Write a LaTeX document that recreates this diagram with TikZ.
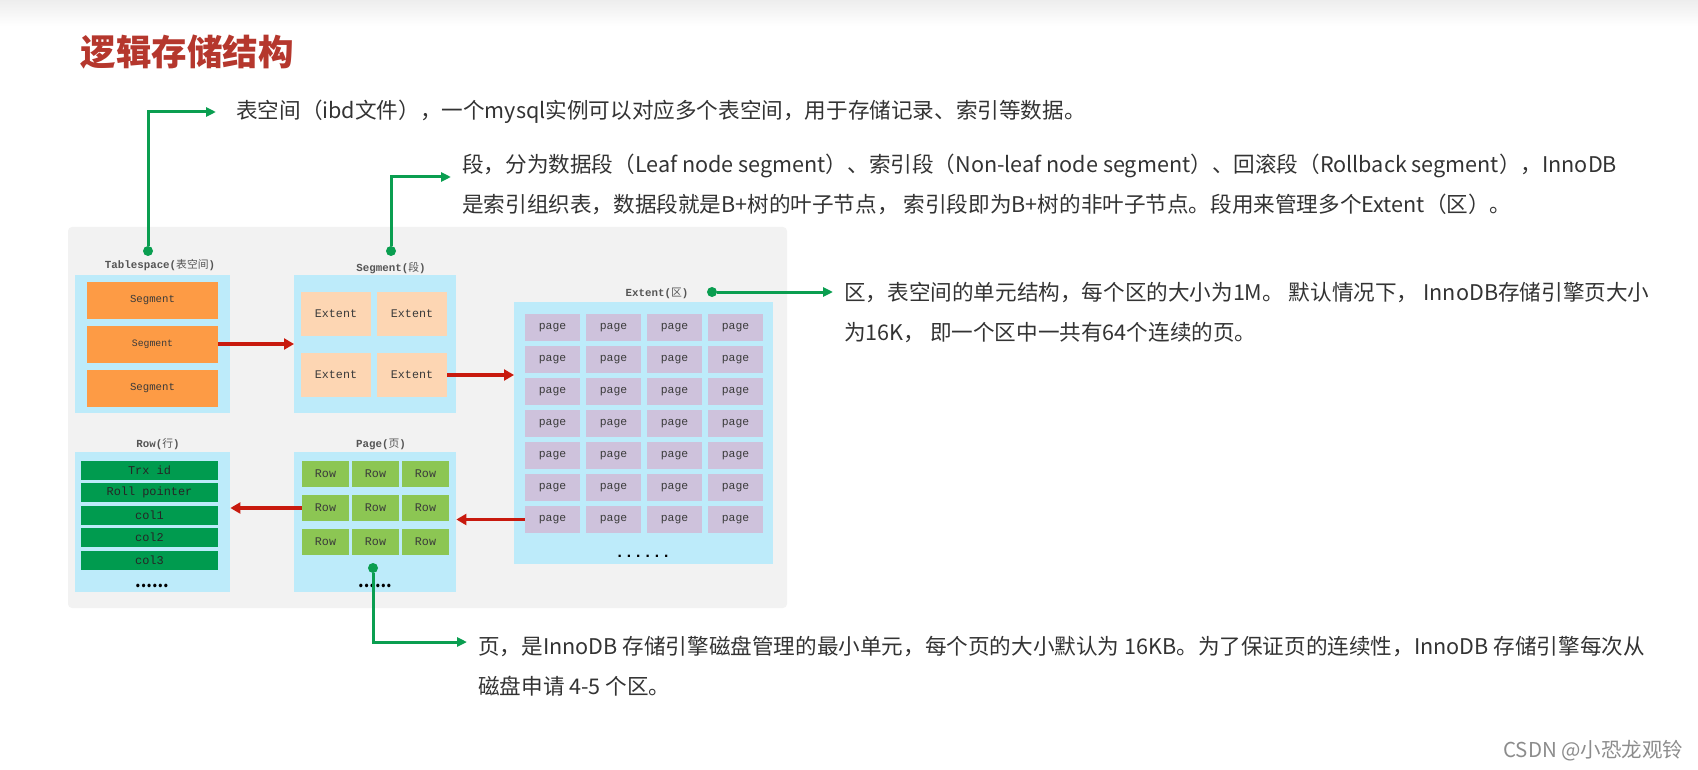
\documentclass[tikz,border=0pt]{standalone}
\usepackage{fontspec}
\setmainfont{Noto Sans CJK SC}
\newfontfamily\cjk{Noto Sans CJK SC}
\newfontfamily\mono{Liberation Mono}
\usetikzlibrary{arrows.meta,positioning,calc}
\definecolor{panelgray}{HTML}{F2F2F2}
\definecolor{bluebg}{HTML}{BDEBFA}
\definecolor{segorange}{HTML}{FD9B45}
\definecolor{extpeach}{HTML}{FDD6B3}
\definecolor{pagepurple}{HTML}{CEC2DC}
\definecolor{rowgreen}{HTML}{8CC653}
\definecolor{colgreen}{HTML}{009B4F}
\definecolor{annogreen}{HTML}{0A9E50}
\definecolor{flowred}{HTML}{C81A0E}
\definecolor{titlered}{HTML}{B5372D}
\definecolor{titlegray}{HTML}{555555}
\definecolor{cellgray}{HTML}{3A3A3A}
\definecolor{notegray}{HTML}{333333}
\newcommand{\boxtitle}[2]{{\mono\bfseries #1(}{\cjk #2}{\mono\bfseries )}}

\begin{document}
\begin{tikzpicture}[
  x=1pt, y=-1pt,
  holder/.style={fill=bluebg, anchor=north west, inner sep=0},
  ttl/.style={font=\fontsize{10.8}{12}\selectfont, text=titlegray, inner sep=1pt},
  cell/.style={inner sep=0, text=cellgray},
  segcell/.style={cell, fill=segorange, minimum width=131pt, minimum height=37pt, font=\mono\fontsize{10.7}{12}\selectfont},
  extcell/.style={cell, fill=extpeach, minimum width=70pt, minimum height=44pt, font=\mono\fontsize{11.7}{12}\selectfont},
  pagecell/.style={cell, fill=pagepurple, minimum width=55pt, minimum height=27pt, font=\mono\fontsize{11.4}{12}\selectfont},
  rowcell/.style={cell, fill=rowgreen, minimum width=47pt, minimum height=26.5pt, font=\mono\fontsize{11.7}{12}\selectfont},
  colcell/.style={cell, fill=colgreen, text=black!85, minimum width=137pt, minimum height=19pt, font=\mono\fontsize{11.9}{12}\selectfont},
  more/.style={inner sep=0, text=black},
  flow/.style={-{Triangle[length=10pt,width=11pt]}, draw=flowred, line width=3.5pt},
  anno/.style={-{Triangle[length=10pt,width=9pt]}, draw=annogreen, line width=3pt},
  gdot/.style={circle, fill=annogreen, inner sep=0, minimum size=10pt},
  note/.style={anchor=west, align=left, inner xsep=11pt, inner ysep=0, text=notegray, font=\fontsize{21.6}{40}\selectfont}
]
\useasboundingbox (0,0) rectangle (1698,770);
\shade[top color=black!7, bottom color=white] (0,0) rectangle (1698,26);
\node[anchor=west, text=titlered, font=\bfseries\fontsize{35.5}{36}\selectfont] (head) at (77,52) {逻辑存储结构};

\fill[panelgray, rounded corners=4pt] (68,227) rectangle (787,608);

\node[holder, minimum width=155pt, minimum height=138pt] (ts) at (75,275) {};
\node[holder, minimum width=162pt, minimum height=138pt] (sg) at (294,275) {};
\node[holder, minimum width=259pt, minimum height=262pt] (ex) at (514,302) {};
\node[holder, minimum width=155pt, minimum height=140pt] (rw) at (75,452) {};
\node[holder, minimum width=162pt, minimum height=140pt] (pg) at (294,452) {};

\node[ttl] (tst) at (160,265) {\boxtitle{Tablespace}{表空间}};
\node[ttl] (sgt) at (391,268) {\boxtitle{Segment}{段}};
\node[ttl] (ext) at (657,293) {\boxtitle{Extent}{区}};
\node[ttl] (rwt) at (158,444) {\boxtitle{Row}{行}};
\node[ttl] (pgt) at (381,444) {\boxtitle{Page}{页}};

\node[segcell] (s1) at (152.5,300.5) {Segment};
\node[segcell, font=\mono\fontsize{9.8}{12}\selectfont] (s2) at (152.5,344) {Segment};
\node[segcell] (s3) at (152.5,388) {Segment};

\node[extcell] (e1) at (336,314) {Extent};
\node[extcell] (e2) at (412,314) {Extent};
\node[extcell] (e3) at (336,375) {Extent};
\node[extcell] (e4) at (412,375) {Extent};

\foreach \r in {1,...,7}
  \foreach \c in {1,...,4}
    \node[pagecell] (p\r-\c) at ({491.5+61*\c},{295.5+32*\r}) {page};
\node[more, font=\mono\bfseries\fontsize{15.5}{16}\selectfont] (exmore) at (643,556) {......};

\foreach \r in {1,2,3}
  \foreach \c in {1,2,3}
    \node[rowcell] (r\r-\c) at ({275.5+50*\c},{440+34*\r}) {Row};
\node[more, font=\bfseries\fontsize{16}{16}\selectfont] (pgmore) at (375,586) {......};

\foreach \t [count=\i] in {Trx id,Roll pointer,col1,col2,col3}
  \node[colcell] (c\i) at (149.5,{448+22.4*\i}) {\t};
\node[more, font=\bfseries\fontsize{16}{16}\selectfont] (rwmore) at (152,586) {......};

\draw[flow] (s2.east) -- (sg.west |- s2.east);
\draw[flow] (e4.east) -- (ex.west |- e4.east);
\draw[flow] (p7-1.west) -- (pg.east |- p7-1.west);
\draw[flow] (r2-1.west) -- (rw.east |- r2-1.west);

\node[gdot] (tsdot) at (148,251) {};
\node[gdot] (sgdot) at (391,251) {};
\node[gdot] (exdot) at (712,292) {};
\node[gdot] (pgdot) at (373,568) {};

\node[note, inner xsep=20pt] (tsnote) at (216,112) {表空间（ibd文件），一个mysql实例可以对应多个表空间，用于存储记录、索引等数据。};
\node[note] (sgnote) at (451,184) {段，分为数据段（Leaf node segment）、索引段（Non-leaf node segment）、回滚段（Rollback segment），InnoDB\\是索引组织表，数据段就是B+树的叶子节点， 索引段即为B+树的非叶子节点。段用来管理多个Extent（区）。};
\node[note] (exnote) at (833,313) {区，表空间的单元结构，每个区的大小为1M。 默认情况下， InnoDB存储引擎页大小\\为16K， 即一个区中一共有64个连续的页。};
\node[note] (pgnote) at (467,666) {页，是InnoDB 存储引擎磁盘管理的最小单元，每个页的大小默认为 16KB。为了保证页的连续性，InnoDB 存储引擎每次从\\磁盘申请 4-5 个区。};

\draw[anno] (tsdot) |- (tsnote.west);
\draw[anno] (sgdot) |- ([yshift=7pt]sgnote.west);
\draw[anno] (exdot) -- ([yshift=21pt]exnote.west);
\draw[anno] (pgdot) |- ([yshift=24pt]pgnote.west);

\node[anchor=east, text=black!45, font=\fontsize{20.5}{21}\selectfont] (mark) at (1687,751) {CSDN @小恐龙观铃};
\end{tikzpicture}
\end{document}
